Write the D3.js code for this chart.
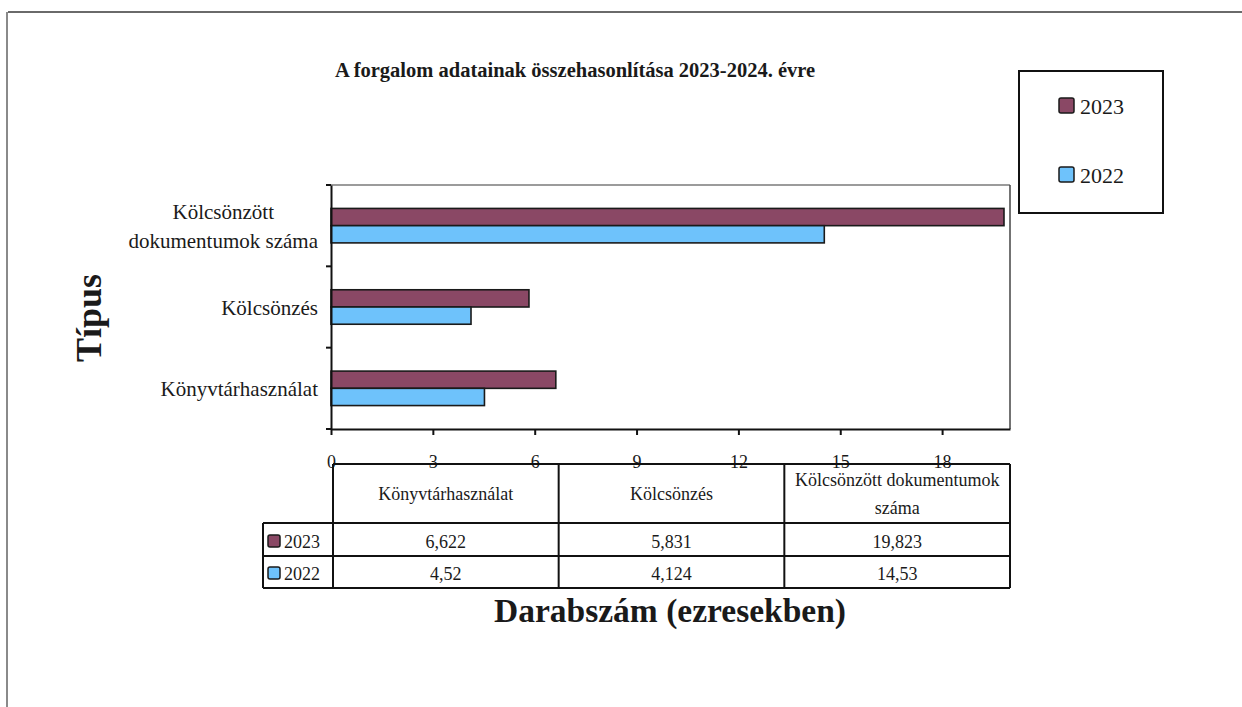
<!DOCTYPE html>
<html>
<head>
<meta charset="utf-8">
<script src="https://cdn.jsdelivr.net/npm/d3@7"></script>
<style>
  html, body { margin: 0; padding: 0; background: #fff; }
  svg { display: block; font-family: "Liberation Serif", "Times New Roman", serif; }
</style>
</head>
<body>
<svg id="chart" width="1242" height="707"></svg>
<script>
// ---- data ----
const categories = ["Könyvtárhasználat", "Kölcsönzés", "Kölcsönzött dokumentumok száma"];
const axisLabels = [["Könyvtárhasználat"], ["Kölcsönzés"], ["Kölcsönzött", "dokumentumok száma"]];
const headerLabels = [["Könyvtárhasználat"], ["Kölcsönzés"], ["Kölcsönzött dokumentumok", "száma"]];
const seriesNames = ["2023", "2022"];
const values2023 = [6.622, 5.831, 19.823];
const values2022 = [4.52, 4.124, 14.53];
const xTicks = [0, 3, 6, 9, 12, 15, 18];
const title = "A forgalom adatainak összehasonlítása 2023-2024. évre";
const xTitle = "Darabszám (ezresekben)";
const yTitle = "Típus";

const colors = { "2023": "#8a4865", "2022": "#6ec2fb" };
const valuesBySeries = { "2023": values2023, "2022": values2022 };
const fmt = v => String(v).replace(".", ",");

const svg = d3.select("#chart");

// outer frame
svg.append("line").attr("x1", 8).attr("y1", 12).attr("x2", 1242).attr("y2", 12)
  .attr("stroke", "#6a6a6a").attr("stroke-width", 2);
svg.append("line").attr("x1", 7).attr("y1", 12).attr("x2", 7).attr("y2", 707)
  .attr("stroke", "#8a8a8a").attr("stroke-width", 2);

// scales
const x = d3.scaleLinear().domain([0, 20]).range([331, 1010]);
const y = d3.scaleBand().domain(categories.slice().reverse()).range([185, 429]).padding(0);
const yInner = d3.scaleBand().domain(seriesNames).range([0, y.bandwidth()]).paddingInner(0).paddingOuter(1.36);

// plot area border (top/right)
svg.append("line").attr("x1", x.range()[0]).attr("x2", x.range()[1]).attr("y1", 185).attr("y2", 185)
  .attr("stroke", "#7a7a7a").attr("stroke-width", 1.5);
svg.append("line").attr("x1", x.range()[1]).attr("x2", x.range()[1]).attr("y1", 185).attr("y2", 429)
  .attr("stroke", "#444").attr("stroke-width", 1.5);

// bars
const groups = svg.append("g").selectAll("g").data(categories).join("g")
  .attr("transform", d => `translate(0,${y(d)})`);
groups.selectAll("rect").data((d, i) => seriesNames.map(s => ({ s, v: valuesBySeries[s][i] }))).join("rect")
  .attr("x", x(0))
  .attr("y", d => yInner(d.s))
  .attr("width", d => x(d.v) - x(0))
  .attr("height", yInner.bandwidth())
  .attr("fill", d => colors[d.s])
  .attr("stroke", "#1a1a1a").attr("stroke-width", 1.6);

// y axis
const yAxis = d3.axisLeft(y).tickSize(0).tickFormat("");
const gy = svg.append("g").attr("transform", `translate(${x(0)},0)`).call(yAxis);
gy.select(".domain").attr("stroke", "#111").attr("stroke-width", 2);
// band boundary ticks
const bounds = [185].concat(categories.map(c => y(c) + y.bandwidth()));
svg.append("g").selectAll("line").data(bounds).join("line")
  .attr("x1", x(0) - 5).attr("x2", x(0)).attr("y1", d => d).attr("y2", d => d)
  .attr("stroke", "#111").attr("stroke-width", 2);

// y category labels
categories.forEach((c, i) => {
  const lines = axisLabels[i];
  const cy = y(c) + y.bandwidth() / 2 + 8;
  const t = svg.append("text").attr("font-size", 21).attr("fill", "#1a1a1a");
  if (lines.length === 1) {
    t.attr("x", 318).attr("y", cy).attr("text-anchor", "end").text(lines[0]);
  } else {
    t.attr("text-anchor", "middle");
    const tmp = svg.append("text").attr("font-size", 21).text(lines.reduce((a, b) => a.length > b.length ? a : b));
    const w = tmp.node().getComputedTextLength();
    tmp.remove();
    lines.forEach((ln, k) => {
      t.append("tspan").attr("x", 318 - w / 2).attr("y", cy + (k - (lines.length - 1) / 2) * 29).text(ln);
    });
  }
});

// x axis
const xAxis = d3.axisBottom(x).tickValues(xTicks).tickSize(6).tickPadding(20).tickSizeOuter(0);
const gx = svg.append("g").attr("transform", `translate(0,429)`).call(xAxis);
gx.select(".domain").attr("stroke", "#111").attr("stroke-width", 2);
gx.selectAll(".tick line").attr("stroke", "#111").attr("stroke-width", 2);
gx.selectAll(".tick text").attr("font-size", 18).attr("fill", "#1a1a1a")
  .attr("font-family", "Liberation Serif, serif");

// data table
const tableCols = d3.scaleBand().domain(categories).range([x.range()[0] + 2, x.range()[1]]);
const tTop = 464, tHead = 523, tRow1 = 556, tRow2 = 588, tLeft = 263;
const tbl = svg.append("g").attr("stroke", "#111").attr("stroke-width", 2);
const L = (x1, y1, x2, y2) => tbl.append("line").attr("x1", x1).attr("y1", y1).attr("x2", x2).attr("y2", y2);
L(tableCols.range()[0], tTop, tableCols.range()[1], tTop);
L(tLeft, tHead, tableCols.range()[1], tHead);
L(tLeft, tRow1, tableCols.range()[1], tRow1);
L(tLeft, tRow2, tableCols.range()[1], tRow2);
L(tLeft, tHead, tLeft, tRow2);
categories.forEach(c => L(tableCols(c), tTop, tableCols(c), tRow2));
L(tableCols.range()[1], tTop, tableCols.range()[1], tRow2);

// header texts
categories.forEach((c, i) => {
  const lines = headerLabels[i];
  const cx = tableCols(c) + tableCols.bandwidth() / 2;
  const t = svg.append("text").attr("font-size", 18).attr("text-anchor", "middle").attr("fill", "#1a1a1a");
  lines.forEach((ln, k) => {
    t.append("tspan").attr("x", cx).attr("y", 500 + (k - (lines.length - 1) / 2) * 28).text(ln);
  });
});

// value rows
const rowBase = { "2023": 548, "2022": 580 };
seriesNames.forEach(s => {
  // legend key + label
  svg.append("rect").attr("x", 268).attr("y", rowBase[s] - 13).attr("width", 12).attr("height", 12)
    .attr("rx", 2).attr("fill", colors[s]).attr("stroke", "#1a1a1a").attr("stroke-width", 1.5);
  svg.append("text").attr("x", 284).attr("y", rowBase[s]).attr("font-size", 18).attr("fill", "#1a1a1a").text(s);
  categories.forEach((c, i) => {
    svg.append("text").attr("x", tableCols(c) + tableCols.bandwidth() / 2).attr("y", rowBase[s])
      .attr("font-size", 18).attr("text-anchor", "middle").attr("fill", "#1a1a1a")
      .text(fmt(valuesBySeries[s][i]));
  });
});

// legend
svg.append("rect").attr("x", 1019).attr("y", 71).attr("width", 144).attr("height", 142)
  .attr("fill", "#fff").attr("stroke", "#111").attr("stroke-width", 2);
const legY = { "2023": 106, "2022": 175 };
seriesNames.forEach(s => {
  svg.append("rect").attr("x", 1059).attr("y", legY[s] - 8).attr("width", 15).attr("height", 15)
    .attr("rx", 2).attr("fill", colors[s]).attr("stroke", "#1a1a1a").attr("stroke-width", 1.5);
  svg.append("text").attr("x", 1080).attr("y", legY[s] + 8).attr("font-size", 22).attr("fill", "#1a1a1a").text(s);
});

// titles
svg.append("text").attr("x", 575).attr("y", 77).attr("text-anchor", "middle")
  .attr("font-size", 20.5).attr("font-weight", "bold").attr("fill", "#1a1a1a").text(title);
svg.append("text").attr("x", 670).attr("y", 622).attr("text-anchor", "middle")
  .attr("font-size", 33.5).attr("font-weight", "bold").attr("fill", "#1a1a1a").text(xTitle);
svg.append("text").attr("transform", "translate(101,318) rotate(-90)").attr("text-anchor", "middle")
  .attr("font-size", 36).attr("font-weight", "bold").attr("fill", "#1a1a1a").text(yTitle);
</script>
</body>
</html>
